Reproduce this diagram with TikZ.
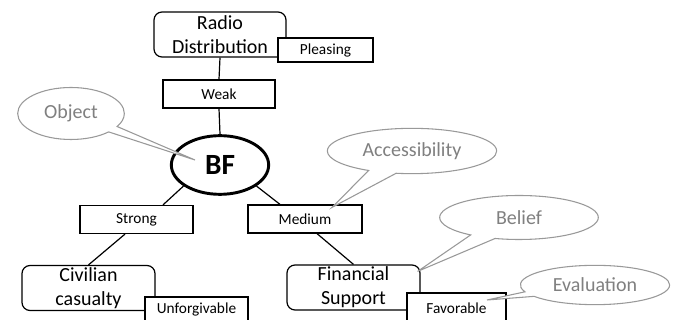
\documentclass[tikz,border=0pt]{standalone}
\usepackage{fontspec}
\setmainfont{Carlito}
\usetikzlibrary{calc,shapes.geometric,shapes.callouts}
\tikzset{
	topic/.style={draw, rounded corners=6pt, line width=0.9pt, minimum width=99pt, minimum height=33.75pt, inner sep=0pt, align=center, font=\fontsize{15}{18}\selectfont},
	tag/.style={draw, fill=white, line width=0.9pt, minimum height=21pt, inner sep=0pt, font=\fontsize{11.5}{13}\selectfont},
	note/.style={ellipse callout, draw=black!40, fill=white, text=black!50, line width=0.8pt, inner sep=0pt, callout pointer arc=15, font=\fontsize{15}{18}\selectfont},
	link/.style={line width=0.9pt}
}

\begin{document}
\begin{tikzpicture}[x=0.75pt, y=-0.75pt]
			%%%%% START %%%%%
			\useasboundingbox (0, 0) rectangle (676, 320);
			
			\node[topic] (radio) at (220, 34.5) {Radio\\Distribution};
			\node[topic, minimum width=99.75pt] (civil) at (88.5, 288) {Civilian\\casualty};
			\node[topic, minimum width=99.75pt] (financial) at (353.5, 287.5) {Financial\\Support};
			
			\node[draw, ellipse, line width=2.2pt, minimum width=73pt, minimum height=44pt, inner sep=0pt, font=\fontsize{22}{24}\selectfont\bfseries] (bf) at (220, 165) {BF};
			
			\node[tag, minimum width=71.25pt, minimum height=18pt] (pleasing) at (325.5, 50) {Pleasing};
			\node[tag, minimum width=84pt] (weak) at (219, 94) {Weak};
			\node[tag, minimum width=84.75pt] (strong) at (136.5, 219.5) {Strong};
			\node[tag, minimum width=85.5pt] (medium) at (305, 219) {Medium};
			\node[tag, minimum width=77.25pt, minimum height=18.75pt] (unforg) at (196.5, 309.5) {Unforgivable};
			\node[tag, minimum width=74.25pt, minimum height=22.5pt] (favorable) at (456.5, 308) {Favorable};
			
			\draw[link] (radio.south) -- (weak.north);
			\draw[link] (weak.south) -- (bf.north);
			\draw[link] (bf.210) -- ($(strong.north)+(26.5, 0)$);
			\draw[link] (bf.-30) -- ($(medium.north)+(-25, 0)$);
			\draw[link] ($(strong.south)+(-11.5, 0)$) -- (civil.north);
			\draw[link] ($(medium.south)+(12, 0)$) -- (financial.north);
			
			\node[note, minimum width=80pt, minimum height=39pt, callout absolute pointer={($(bf.center)+(-25, -5)$)}] (object) at (71, 113.5) {Object};
			\node[note, minimum width=127pt, minimum height=34pt, callout pointer arc=20, callout absolute pointer={($(medium.north)+(27, 3)$)}] (access) at (412, 151) {Accessibility};
			\node[note, minimum width=119pt, minimum height=33pt, callout pointer arc=20, callout absolute pointer={($(financial.north east)+(-3, 7)$)}] (belief) at (519, 217.5) {Belief};
			\node[note, minimum width=112pt, minimum height=29.5pt, callout absolute pointer={($(favorable.center)+(30.5, -8)$)}] (eval) at (595, 285) {Evaluation};
			
			%%%%% END %%%%%
		\end{tikzpicture}
\end{document}
